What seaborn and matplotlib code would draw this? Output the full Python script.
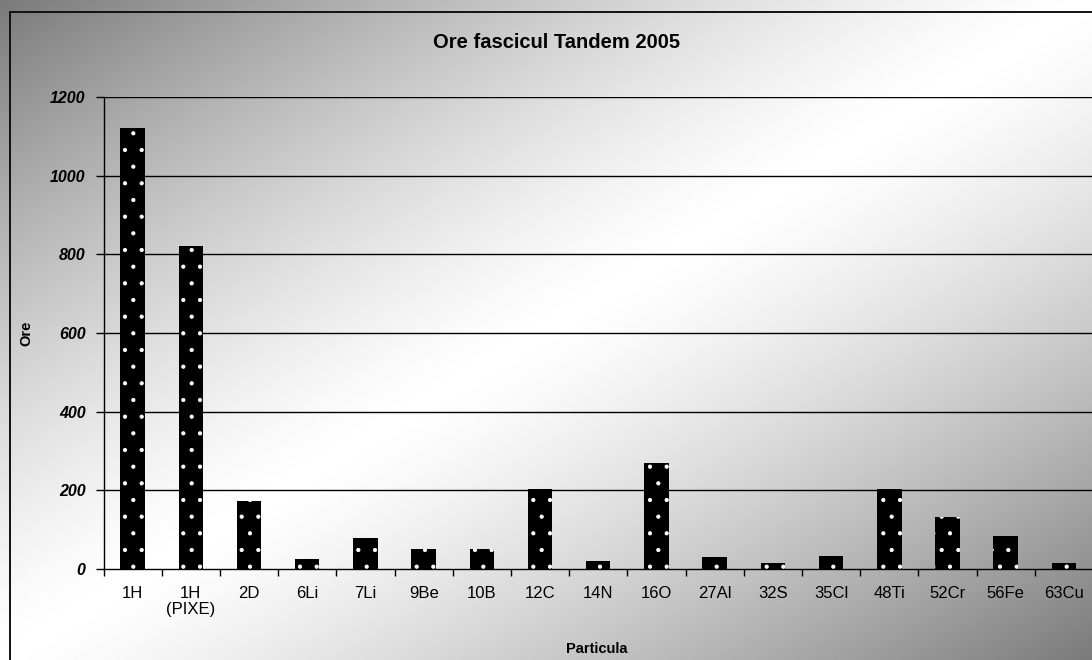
import numpy as np
import pandas as pd
import matplotlib
matplotlib.use("Agg")
import matplotlib.pyplot as plt
from matplotlib.patches import Rectangle
from matplotlib.ticker import FixedLocator, NullFormatter
import seaborn as sns

# Beam hours per particle at the Tandem accelerator, 2005
particles = ["1H", "1H\n(PIXE)", "2D", "6Li", "7Li", "9Be", "10B", "12C", "14N",
             "16O", "27Al", "32S", "35Cl", "48Ti", "52Cr", "56Fe", "63Cu"]
hours = [1120, 820, 172, 25, 80, 50, 50, 203, 20, 270, 31, 14, 34, 203, 133, 85, 14]
y_ticks = [0, 200, 400, 600, 800, 1000, 1200]

sns.set_theme(style="white")
plt.rcParams["font.family"] = ["Liberation Sans", "DejaVu Sans"]
plt.rcParams["hatch.linewidth"] = 0.6

W, H = 1092, 660
fig = plt.figure(figsize=(W / 100, H / 100), dpi=100)

# Diagonal grey-white-grey gradient behind the whole chart
bg = fig.add_axes([0, 0, 1, 1], zorder=-10)
xx, yy = np.meshgrid(np.linspace(0, 1, 600), np.linspace(0, 1, 400))
t = np.abs(xx + yy - 1.0)  # 0 on the anti-diagonal, 1 at the two far corners
shade = 1.0 - 0.52 * t ** 1.3
bg.imshow(shade, cmap="gray", vmin=0, vmax=1, extent=[0, 1, 0, 1],
          aspect="auto", origin="upper", interpolation="bilinear")
bg.add_patch(Rectangle((10 / W, -0.1), 1.2, 1 - 12 / H + 0.1, fill=False,
                       edgecolor="#111111", linewidth=1.4,
                       transform=bg.transAxes))
bg.set_xlim(0, 1)
bg.set_ylim(0, 1)
bg.axis("off")

left, right = 103.5, 1093.0
top, bottom = 97.0, 569.0
ax = fig.add_axes([left / W, 1 - bottom / H, (right - left) / W, (bottom - top) / H])
ax.set_facecolor("none")

df = pd.DataFrame({"Particula": particles, "Ore": hours})
sns.barplot(data=df, x="Particula", y="Ore", color="black", saturation=1,
            width=0.42, edgecolor="white", linewidth=0, hatch=".", ax=ax,
            zorder=3)
for p in ax.patches:
    p.set_hatch(".")
    p.set_edgecolor("white")
    p.set_linewidth(0)

ax.set_xlim(-0.5, len(particles) - 0.5)
ax.set_ylim(0, 1200)
ax.set_yticks(y_ticks)
ax.set_yticklabels([str(v) for v in y_ticks], fontsize=11.5,
                   fontweight="bold", fontstyle="italic")
ax.set_xticks(range(len(particles)))
ax.set_xticklabels(particles, fontsize=12, linespacing=1.15)
ax.xaxis.set_minor_locator(FixedLocator(np.arange(-0.5, len(particles), 1.0)))
ax.xaxis.set_minor_formatter(NullFormatter())
ax.tick_params(axis="x", which="major", length=0, pad=12, colors="black")
ax.tick_params(axis="x", which="minor", length=5, width=1, direction="out",
               color="black", bottom=True)
ax.tick_params(axis="y", which="major", length=6, width=1, direction="out",
               pad=7, color="black", left=True, labelcolor="black")

for v in y_ticks[1:]:
    ax.axhline(v, color="black", linewidth=1.0, zorder=1)

for side in ["top", "right"]:
    ax.spines[side].set_visible(False)
for side in ["left", "bottom"]:
    ax.spines[side].set_visible(True)
    ax.spines[side].set_color("black")
    ax.spines[side].set_linewidth(1.0)

ax.set_xlabel("Particula", fontsize=10.5, fontweight="bold", color="black")
ax.set_ylabel("Ore", fontsize=10.5, fontweight="bold", color="black")
ax.xaxis.set_label_coords((597 - left) / (right - left), (bottom - 642) / (bottom - top))
ax.yaxis.set_label_coords((33 - left) / (right - left), 0.5)

fig.text(557 / W, 1 - 43 / H, "Ore fascicul Tandem 2005", ha="center",
         va="center", fontsize=14.5, fontweight="bold", color="black")

fig.savefig("out.png", dpi=100)
